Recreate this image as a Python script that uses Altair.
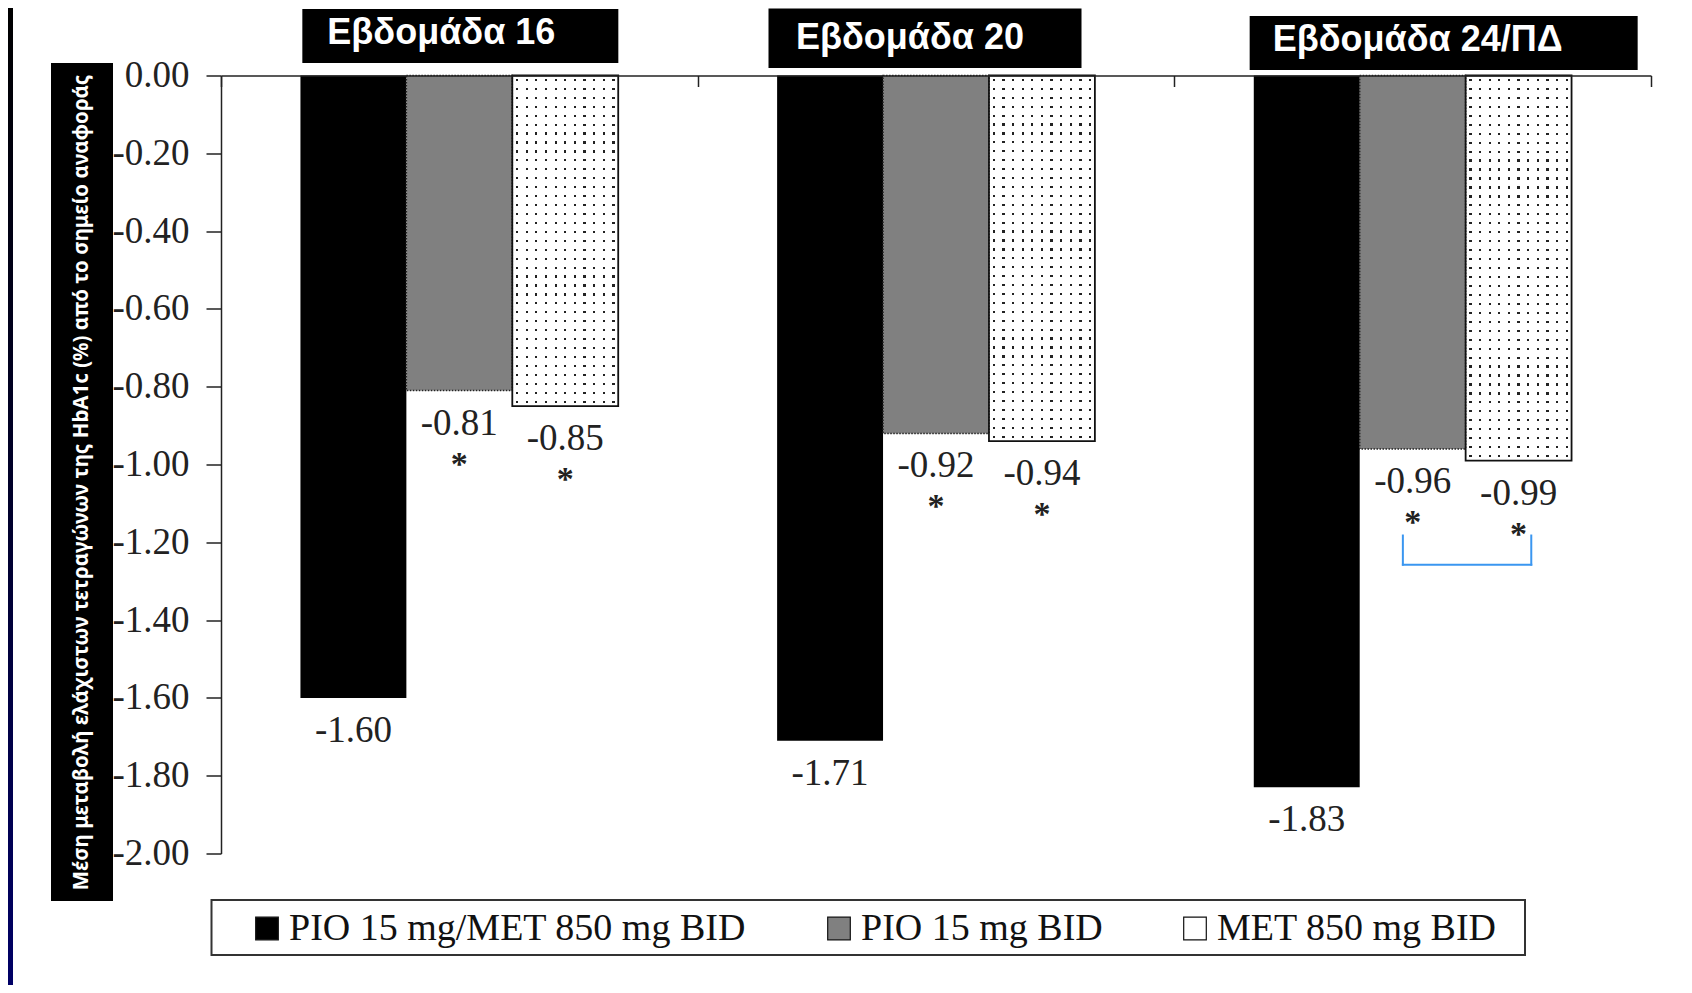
import altair as alt
import pandas as pd

# ---------------- data ----------------
weeks = ["Εβδομάδα 16", "Εβδομάδα 20", "Εβδομάδα 24/ΠΔ"]
treatments = ["PIO 15 mg/MET 850 mg BID", "PIO 15 mg BID", "MET 850 mg BID"]
combo_change = [-1.60, -1.71, -1.83]
pio_change = [-0.81, -0.92, -0.96]
met_change = [-0.85, -0.94, -0.99]
significance = ["", "*", "*"]          # marker per treatment
y_tick_values = [0.0, -0.2, -0.4, -0.6, -0.8, -1.0, -1.2, -1.4, -1.6, -1.8, -2.0]
y_title = "Μέση μεταβολή ελάχιστων τετραγώνων της HbA1c (%) από το σημείο αναφοράς"
bracket_week = "Εβδομάδα 24/ΠΔ"
bracket_top = -1.18
bracket_bottom = -1.26

fill_colors = ["#000000", "#808080", "#ffffff"]

rows = []
for t, vals, sig in zip(treatments, [combo_change, pio_change, met_change], significance):
    for w, v in zip(weeks, vals):
        rows.append({"week": w, "treatment": t, "value": v, "sig": sig})
df = pd.DataFrame(rows)

# ---------------- layout ----------------
W, H = 1430, 778
SERIF = "Liberation Serif"
SANS = "Liberation Sans"
CLEAR = "rgba(0,0,0,0)"
NUM_SIZE = 37
px_per_unit = H / 2

x_scale = alt.Scale(domain=weeks, paddingInner=0, paddingOuter=0)
x_axis = alt.Axis(orient="bottom", offset=-H, labels=False, title=None, tickBand="extent",
                  tickSize=11, tickWidth=1.5, tickColor="#222", domainColor="#222",
                  domainWidth=1.5, zindex=1, grid=False)
x_enc = alt.X("week:N", sort=weeks, scale=x_scale, axis=x_axis, title=None)
xo_enc = alt.XOffset("treatment:N", sort=treatments,
                     scale=alt.Scale(domain=treatments, paddingInner=0, paddingOuter=0.75))
y_enc = alt.Y("value:Q", title=None,
              scale=alt.Scale(domain=[-2, 0], nice=False),
              axis=alt.Axis(values=y_tick_values,
                            labelExpr="datum.value == 0 ? '0.00' : replace(format(datum.value, '.2f'), '\u2212', '-')",
                            labelFont=SERIF, labelFontSize=NUM_SIZE, labelColor="#222",
                            labelPadding=17, tickSize=15, tickWidth=1.5, tickColor="#222",
                            domainColor="#222", domainWidth=1.5, grid=False, title=None))

base = alt.Chart(df)

bars = base.mark_bar().encode(
    x=x_enc, xOffset=xo_enc, y=y_enc,
    color=alt.Color("treatment:N", sort=treatments,
                    scale=alt.Scale(domain=treatments, range=fill_colors),
                    legend=alt.Legend(orient="none", legendX=27, legendY=834,
                                      direction="horizontal", title=None,
                                      symbolType="square", symbolSize=511,
                                      symbolStrokeColor="#111", symbolStrokeWidth=1.2,
                                      labelFont=SERIF, labelFontSize=38, labelColor="#111",
                                      labelOffset=3, columnPadding=73, padding=0,
                                      labelLimit=0)),
)

# dotted texture of MET bars: vertical dot columns, then white mask with thin gaps
bar_w = (W / 3) / 4.5
n_cols = 11
half_c = 1.1 / bar_w
v_stops = [(0.0, CLEAR)]
for k in range(n_cols):
    c = (k + 0.5) / n_cols
    v_stops += [(c - half_c, CLEAR), (c - half_c, "#222"), (c + half_c, "#222"), (c + half_c, CLEAR)]
v_stops.append((1.0, CLEAR))


def grad(stops, horizontal):
    return alt.LinearGradient(
        gradient="linear",
        stops=[alt.GradientStop(offset=round(o, 5), color=c) for o, c in stops],
        x1=0, y1=0, x2=1 if horizontal else 0, y2=0 if horizontal else 1)


met_name = treatments[2]
dots_v = base.transform_filter(alt.datum.treatment == met_name).mark_bar(
    fill=grad(v_stops, True)).encode(x=x_enc, xOffset=xo_enc, y=y_enc)

masks = []
for w, v in zip(weeks, met_change):
    h = abs(v) * px_per_unit
    n_rows = max(1, round(h / 9))
    half_r = 1.1 / h
    h_stops = [(0.0, "#ffffff")]
    for j in range(n_rows):
        c = (j + 0.5) / n_rows
        h_stops += [(c - half_r, "#ffffff"), (c - half_r, CLEAR), (c + half_r, CLEAR), (c + half_r, "#ffffff")]
    h_stops.append((1.0, "#ffffff"))
    masks.append(
        base.transform_filter((alt.datum.treatment == met_name) & (alt.datum.week == w))
        .mark_bar(fill=grad(h_stops, False))
        .encode(x=x_enc, xOffset=xo_enc, y=y_enc)
    )

outline_met = base.transform_filter(alt.datum.treatment == met_name).mark_bar(
    fill="transparent", stroke="#111", strokeWidth=1.8).encode(x=x_enc, xOffset=xo_enc, y=y_enc)
outline_pio = base.transform_filter(alt.datum.treatment == treatments[1]).mark_bar(
    fill="transparent", stroke="#222", strokeWidth=1.5, strokeDash=[1.5, 1.5]).encode(
    x=x_enc, xOffset=xo_enc, y=y_enc)

value_labels = base.transform_calculate(
    label="replace(format(datum.value, '.2f'), '\u2212', '-')"
).mark_text(font=SERIF, fontSize=NUM_SIZE, color="#222", baseline="middle", dy=33).encode(
    x=x_enc, xOffset=xo_enc, y=y_enc, text="label:N")

stars = base.transform_filter(alt.datum.sig != "").mark_text(
    font=SERIF, fontSize=34, fontWeight="bold", color="#222", baseline="alphabetic", dy=84
).encode(x=x_enc, xOffset=xo_enc, y=y_enc, text="sig:N")

# comparison bracket (week 24): shifts in px from the week band centre
BR_COLOR = "#3a96f0"
br_left, br_right = -9.8, 118.6
df_br_v = pd.DataFrame({"week": [bracket_week], "value": [bracket_top], "value2": [bracket_bottom]})
df_br_h = pd.DataFrame({"week": [bracket_week], "value": [bracket_bottom + 2 / px_per_unit],
                        "value2": [bracket_bottom]})
bracket = [
    alt.Chart(df_br_v).mark_bar(color=BR_COLOR, width=2, xOffset=br_left).encode(
        x=x_enc, y=y_enc, y2="value2:Q"),
    alt.Chart(df_br_v).mark_bar(color=BR_COLOR, width=2, xOffset=br_right).encode(
        x=x_enc, y=y_enc, y2="value2:Q"),
    alt.Chart(df_br_h).mark_bar(color=BR_COLOR, width=br_right - br_left + 2,
                                xOffset=(br_left + br_right) / 2).encode(
        x=x_enc, y=y_enc, y2="value2:Q"),
]

# week header boxes (width px, centre shift px, top, bottom, text shift, text y)
header_layout = [
    (316, 1, -66.5, -12.5, -18, -42.5),
    (313, -11, -67, -7.5, -26, -37.5),
    (388, 31, -59.5, -5.5, 5, -35.5),
]
df_weeks = pd.DataFrame({"week": weeks})
headers = []
for w, (bw, shift, top, bottom, tdx, ty) in zip(weeks, header_layout):
    one = alt.Chart(df_weeks).transform_filter(alt.datum.week == w)
    headers.append(one.mark_bar(color="black", width=bw, xOffset=shift).encode(
        x=x_enc, y=alt.value(top), y2=alt.value(bottom)))
    headers.append(one.mark_text(font=SANS, fontSize=36, fontWeight="bold", color="white",
                                 align="center", baseline="middle", dx=tdx).encode(
        x=x_enc, y=alt.value(ty), text="week:N"))

df_title = pd.DataFrame({"t": [y_title]})
title_box = alt.Chart(df_title).mark_rect(color="black").encode(
    x=alt.value(-170), x2=alt.value(-108), y=alt.value(-12.5), y2=alt.value(825.5))
title_text = alt.Chart(df_title).mark_text(
    font="Noto Sans", fontSize=20.5, fontWeight="bold", color="white", angle=270,
    align="center", baseline="middle").encode(
    x=alt.value(-139), y=alt.value(407), text="t:N")

legend_box = alt.Chart(df_title).mark_rect(fill="transparent", stroke="#333", strokeWidth=2).encode(
    x=alt.value(-9.5), x2=alt.value(1304), y=alt.value(824.5), y2=alt.value(879.5))

left_strip = alt.Chart(df_title).mark_rect(
    fill=alt.LinearGradient(gradient="linear", x1=0, y1=0, x2=0, y2=1,
                            stops=[alt.GradientStop(offset=0, color="#000000"),
                                   alt.GradientStop(offset=0.5, color="#00002a"),
                                   alt.GradientStop(offset=1, color="#000066")])).encode(
    x=alt.value(-213), x2=alt.value(-208), y=alt.value(-68), y2=alt.value(910))

chart = alt.layer(
    bars, dots_v, *masks, outline_pio, outline_met, value_labels, stars, *bracket,
    *headers, title_box, title_text, legend_box, left_strip
).properties(
    width=W, height=H,
    padding={"left": 213, "top": 67.5, "right": 33, "bottom": 131},
    autosize=alt.AutoSizeParams(type="none"),
    background="white",
).configure_view(strokeWidth=0)

chart.save("out.html", embed_options={"renderer": "svg", "actions": False})
